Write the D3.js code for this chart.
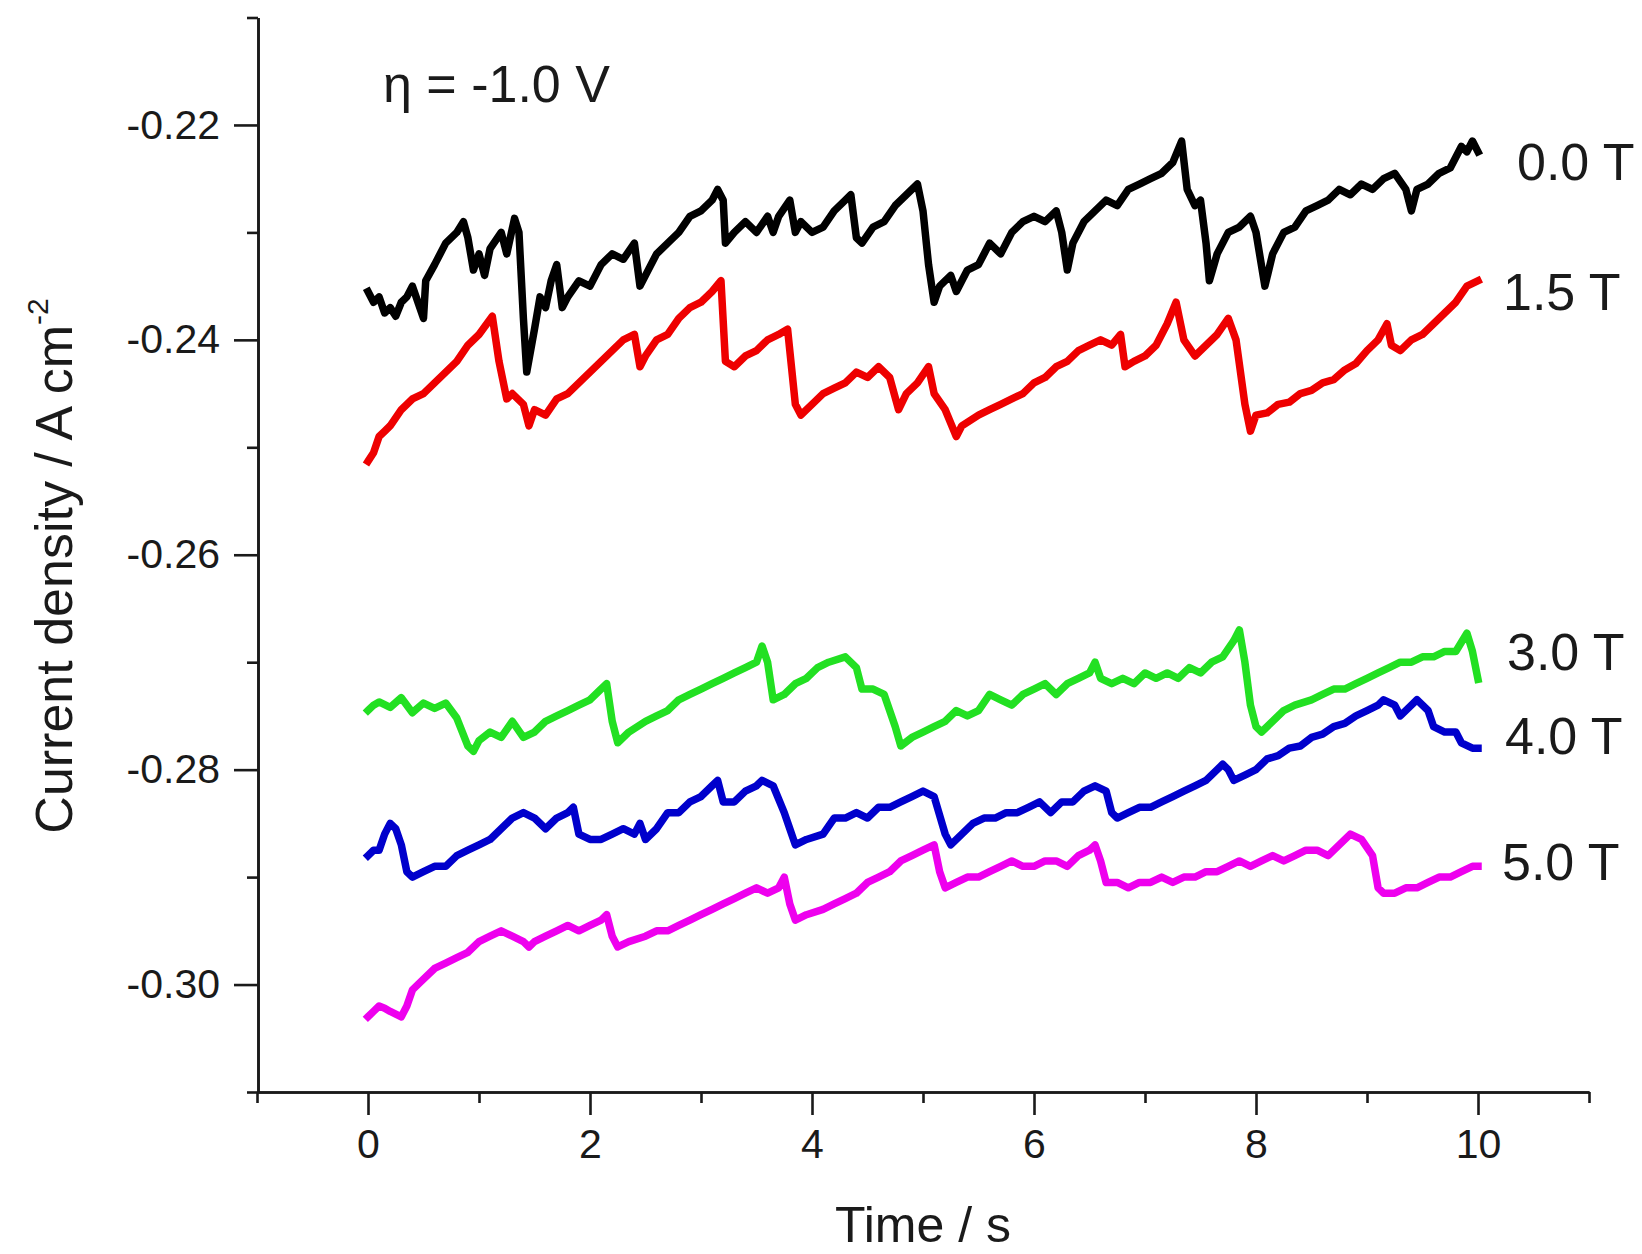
<!DOCTYPE html>
<html><head><meta charset="utf-8">
<script src="https://cdn.jsdelivr.net/npm/d3@7"></script>
<style>
body{margin:0;background:#fff}
svg{display:block}
text{font-family:"Liberation Sans",Arial,Helvetica,sans-serif;fill:#1a1a1a}
</style>
</head><body>
<svg id="chart" width="1642" height="1254"></svg>
<script>
// ---------- data (time in s, current density in A cm^-2) ----------
const trace00T = [[0.00,-0.2355],[0.05,-0.2365],[0.10,-0.2360],[0.15,-0.2375],[0.20,-0.2370],[0.25,-0.2378],[0.30,-0.2365],[0.35,-0.2360],[0.40,-0.2350],[0.45,-0.2365],[0.50,-0.2380],[0.52,-0.2345],[0.60,-0.2330],[0.70,-0.2310],[0.80,-0.2300],[0.86,-0.2290],[0.90,-0.2305],[0.95,-0.2335],[1.00,-0.2320],[1.05,-0.2340],[1.10,-0.2315],[1.20,-0.2300],[1.25,-0.2320],[1.32,-0.2287],[1.36,-0.2300],[1.40,-0.2380],[1.43,-0.2430],[1.50,-0.2390],[1.55,-0.2360],[1.60,-0.2370],[1.65,-0.2345],[1.70,-0.2330],[1.75,-0.2370],[1.80,-0.2360],[1.90,-0.2345],[2.00,-0.2350],[2.10,-0.2330],[2.20,-0.2320],[2.30,-0.2325],[2.40,-0.2310],[2.45,-0.2350],[2.50,-0.2340],[2.60,-0.2320],[2.70,-0.2310],[2.80,-0.2300],[2.90,-0.2285],[3.00,-0.2280],[3.10,-0.2270],[3.15,-0.2260],[3.20,-0.2270],[3.22,-0.2310],[3.30,-0.2300],[3.40,-0.2290],[3.50,-0.2300],[3.60,-0.2285],[3.65,-0.2300],[3.70,-0.2285],[3.80,-0.2270],[3.85,-0.2300],[3.90,-0.2290],[4.00,-0.2300],[4.10,-0.2295],[4.20,-0.2280],[4.30,-0.2270],[4.35,-0.2265],[4.40,-0.2305],[4.45,-0.2310],[4.55,-0.2295],[4.65,-0.2290],[4.75,-0.2275],[4.85,-0.2265],[4.95,-0.2255],[5.00,-0.2280],[5.05,-0.2330],[5.10,-0.2365],[5.15,-0.2350],[5.25,-0.2340],[5.30,-0.2355],[5.40,-0.2335],[5.50,-0.2330],[5.60,-0.2310],[5.70,-0.2320],[5.80,-0.2300],[5.90,-0.2290],[6.00,-0.2285],[6.10,-0.2290],[6.20,-0.2280],[6.25,-0.2300],[6.30,-0.2335],[6.35,-0.2310],[6.45,-0.2290],[6.55,-0.2280],[6.65,-0.2270],[6.75,-0.2275],[6.85,-0.2260],[6.95,-0.2255],[7.05,-0.2250],[7.15,-0.2245],[7.25,-0.2235],[7.33,-0.2215],[7.38,-0.2260],[7.45,-0.2275],[7.50,-0.2270],[7.55,-0.2310],[7.58,-0.2345],[7.65,-0.2320],[7.75,-0.2300],[7.85,-0.2295],[7.95,-0.2285],[8.00,-0.2300],[8.08,-0.2350],[8.15,-0.2320],[8.25,-0.2300],[8.35,-0.2295],[8.45,-0.2280],[8.55,-0.2275],[8.65,-0.2270],[8.75,-0.2260],[8.85,-0.2265],[8.95,-0.2255],[9.05,-0.2260],[9.15,-0.2250],[9.25,-0.2245],[9.35,-0.2260],[9.40,-0.2280],[9.45,-0.2260],[9.55,-0.2255],[9.65,-0.2245],[9.75,-0.2240],[9.85,-0.2220],[9.90,-0.2225],[9.95,-0.2215],[10.0,-0.2225]];

const trace15T = [[0.00,-0.2513],[0.05,-0.2505],[0.10,-0.2490],[0.15,-0.2485],[0.20,-0.2480],[0.30,-0.2465],[0.40,-0.2455],[0.50,-0.2450],[0.60,-0.2440],[0.70,-0.2430],[0.80,-0.2420],[0.90,-0.2405],[1.00,-0.2395],[1.12,-0.2378],[1.18,-0.2420],[1.25,-0.2455],[1.30,-0.2450],[1.40,-0.2460],[1.45,-0.2480],[1.50,-0.2465],[1.60,-0.2470],[1.70,-0.2455],[1.80,-0.2450],[1.90,-0.2440],[2.00,-0.2430],[2.10,-0.2420],[2.20,-0.2410],[2.30,-0.2400],[2.40,-0.2395],[2.45,-0.2425],[2.50,-0.2415],[2.60,-0.2400],[2.70,-0.2395],[2.80,-0.2380],[2.90,-0.2370],[3.00,-0.2365],[3.10,-0.2355],[3.18,-0.2345],[3.22,-0.2420],[3.30,-0.2425],[3.40,-0.2415],[3.50,-0.2410],[3.60,-0.2400],[3.70,-0.2395],[3.78,-0.2390],[3.85,-0.2460],[3.90,-0.2470],[4.00,-0.2460],[4.10,-0.2450],[4.20,-0.2445],[4.30,-0.2440],[4.40,-0.2430],[4.50,-0.2435],[4.60,-0.2425],[4.70,-0.2435],[4.78,-0.2465],[4.85,-0.2450],[4.95,-0.2440],[5.05,-0.2425],[5.10,-0.2450],[5.20,-0.2465],[5.30,-0.2490],[5.35,-0.2480],[5.50,-0.2470],[5.60,-0.2465],[5.70,-0.2460],[5.80,-0.2455],[5.90,-0.2450],[6.00,-0.2440],[6.10,-0.2435],[6.20,-0.2425],[6.30,-0.2420],[6.40,-0.2410],[6.50,-0.2405],[6.60,-0.2400],[6.70,-0.2405],[6.78,-0.2395],[6.82,-0.2425],[6.90,-0.2420],[7.00,-0.2415],[7.10,-0.2405],[7.20,-0.2385],[7.28,-0.2365],[7.35,-0.2400],[7.45,-0.2415],[7.55,-0.2405],[7.65,-0.2395],[7.75,-0.2380],[7.82,-0.2400],[7.90,-0.2460],[7.95,-0.2485],[8.00,-0.2470],[8.10,-0.2468],[8.20,-0.2460],[8.30,-0.2458],[8.40,-0.2450],[8.50,-0.2447],[8.60,-0.2440],[8.70,-0.2437],[8.80,-0.2428],[8.90,-0.2422],[9.00,-0.2410],[9.10,-0.2400],[9.18,-0.2385],[9.22,-0.2405],[9.30,-0.2410],[9.40,-0.2400],[9.50,-0.2395],[9.60,-0.2385],[9.70,-0.2375],[9.80,-0.2365],[9.90,-0.2350],[10.0,-0.2345]];

const trace30T = [[0.00,-0.2745],[0.05,-0.2740],[0.10,-0.2737],[0.20,-0.2742],[0.30,-0.2733],[0.40,-0.2747],[0.50,-0.2738],[0.60,-0.2743],[0.70,-0.2738],[0.80,-0.2752],[0.90,-0.2778],[0.95,-0.2783],[1.00,-0.2773],[1.10,-0.2765],[1.20,-0.2770],[1.30,-0.2755],[1.40,-0.2770],[1.50,-0.2765],[1.60,-0.2755],[1.70,-0.2750],[1.80,-0.2745],[1.90,-0.2740],[2.00,-0.2735],[2.10,-0.2725],[2.15,-0.2720],[2.20,-0.2755],[2.25,-0.2775],[2.35,-0.2765],[2.50,-0.2755],[2.60,-0.2750],[2.70,-0.2745],[2.80,-0.2735],[2.90,-0.2730],[3.00,-0.2725],[3.10,-0.2720],[3.20,-0.2715],[3.30,-0.2710],[3.40,-0.2705],[3.50,-0.2700],[3.55,-0.2685],[3.60,-0.2700],[3.65,-0.2735],[3.75,-0.2730],[3.85,-0.2720],[3.95,-0.2715],[4.05,-0.2705],[4.15,-0.2700],[4.30,-0.2695],[4.40,-0.2705],[4.45,-0.2725],[4.55,-0.2725],[4.65,-0.2730],[4.75,-0.2760],[4.80,-0.2778],[4.90,-0.2770],[5.00,-0.2765],[5.10,-0.2760],[5.20,-0.2755],[5.30,-0.2745],[5.40,-0.2750],[5.50,-0.2745],[5.60,-0.2730],[5.70,-0.2735],[5.80,-0.2740],[5.90,-0.2730],[6.00,-0.2725],[6.10,-0.2720],[6.20,-0.2730],[6.30,-0.2720],[6.40,-0.2715],[6.50,-0.2710],[6.55,-0.2700],[6.60,-0.2715],[6.70,-0.2720],[6.80,-0.2715],[6.90,-0.2720],[7.00,-0.2710],[7.10,-0.2715],[7.20,-0.2710],[7.30,-0.2715],[7.40,-0.2705],[7.50,-0.2710],[7.60,-0.2700],[7.70,-0.2695],[7.80,-0.2680],[7.85,-0.2670],[7.90,-0.2700],[7.95,-0.2740],[8.00,-0.2760],[8.05,-0.2765],[8.15,-0.2755],[8.25,-0.2745],[8.35,-0.2740],[8.50,-0.2735],[8.60,-0.2730],[8.70,-0.2725],[8.80,-0.2725],[8.90,-0.2720],[9.00,-0.2715],[9.10,-0.2710],[9.20,-0.2705],[9.30,-0.2700],[9.40,-0.2700],[9.50,-0.2695],[9.60,-0.2695],[9.70,-0.2690],[9.80,-0.2690],[9.90,-0.2673],[9.95,-0.2690],[10.0,-0.2716]];

const trace40T = [[0.00,-0.2880],[0.05,-0.2875],[0.10,-0.2875],[0.15,-0.2860],[0.20,-0.2850],[0.25,-0.2855],[0.30,-0.2870],[0.35,-0.2895],[0.40,-0.2900],[0.50,-0.2895],[0.60,-0.2890],[0.70,-0.2890],[0.80,-0.2880],[0.90,-0.2875],[1.00,-0.2870],[1.10,-0.2865],[1.20,-0.2855],[1.30,-0.2845],[1.40,-0.2840],[1.50,-0.2845],[1.60,-0.2855],[1.70,-0.2845],[1.80,-0.2840],[1.85,-0.2835],[1.90,-0.2860],[2.00,-0.2865],[2.10,-0.2865],[2.20,-0.2860],[2.30,-0.2855],[2.40,-0.2860],[2.45,-0.2850],[2.50,-0.2865],[2.60,-0.2855],[2.70,-0.2840],[2.80,-0.2840],[2.90,-0.2830],[3.00,-0.2825],[3.10,-0.2815],[3.15,-0.2810],[3.20,-0.2830],[3.30,-0.2830],[3.40,-0.2820],[3.50,-0.2815],[3.55,-0.2810],[3.65,-0.2815],[3.75,-0.2840],[3.80,-0.2855],[3.85,-0.2870],[3.95,-0.2865],[4.10,-0.2860],[4.20,-0.2845],[4.30,-0.2845],[4.40,-0.2840],[4.50,-0.2845],[4.60,-0.2835],[4.70,-0.2835],[4.80,-0.2830],[4.90,-0.2825],[5.00,-0.2820],[5.10,-0.2825],[5.20,-0.2860],[5.25,-0.2870],[5.35,-0.2860],[5.45,-0.2850],[5.55,-0.2845],[5.65,-0.2845],[5.75,-0.2840],[5.85,-0.2840],[5.95,-0.2835],[6.05,-0.2830],[6.15,-0.2840],[6.25,-0.2830],[6.35,-0.2830],[6.45,-0.2820],[6.55,-0.2815],[6.65,-0.2820],[6.70,-0.2840],[6.75,-0.2845],[6.85,-0.2840],[6.95,-0.2835],[7.05,-0.2835],[7.15,-0.2830],[7.25,-0.2825],[7.35,-0.2820],[7.45,-0.2815],[7.55,-0.2810],[7.65,-0.2800],[7.70,-0.2795],[7.75,-0.2800],[7.80,-0.2810],[7.90,-0.2805],[8.00,-0.2800],[8.10,-0.2790],[8.20,-0.2787],[8.30,-0.2780],[8.40,-0.2778],[8.50,-0.2770],[8.60,-0.2767],[8.70,-0.2760],[8.80,-0.2757],[8.90,-0.2750],[9.00,-0.2745],[9.10,-0.2740],[9.15,-0.2735],[9.25,-0.2740],[9.30,-0.2750],[9.40,-0.2740],[9.45,-0.2735],[9.55,-0.2745],[9.60,-0.2760],[9.70,-0.2765],[9.80,-0.2765],[9.85,-0.2775],[9.95,-0.2780],[10.0,-0.2780]];

const trace50T = [[0.00,-0.3030],[0.05,-0.3025],[0.10,-0.3020],[0.15,-0.3022],[0.20,-0.3025],[0.30,-0.3030],[0.35,-0.3020],[0.40,-0.3005],[0.50,-0.2995],[0.60,-0.2985],[0.70,-0.2980],[0.80,-0.2975],[0.90,-0.2970],[1.00,-0.2960],[1.10,-0.2955],[1.20,-0.2950],[1.30,-0.2955],[1.40,-0.2960],[1.45,-0.2965],[1.50,-0.2960],[1.60,-0.2955],[1.70,-0.2950],[1.80,-0.2945],[1.90,-0.2950],[2.00,-0.2945],[2.10,-0.2940],[2.15,-0.2935],[2.20,-0.2955],[2.25,-0.2965],[2.35,-0.2960],[2.50,-0.2955],[2.60,-0.2950],[2.70,-0.2950],[2.80,-0.2945],[2.90,-0.2940],[3.00,-0.2935],[3.10,-0.2930],[3.20,-0.2925],[3.30,-0.2920],[3.40,-0.2915],[3.50,-0.2910],[3.60,-0.2915],[3.70,-0.2910],[3.75,-0.2900],[3.80,-0.2925],[3.85,-0.2940],[3.95,-0.2935],[4.10,-0.2930],[4.20,-0.2925],[4.30,-0.2920],[4.40,-0.2915],[4.50,-0.2905],[4.60,-0.2900],[4.70,-0.2895],[4.80,-0.2885],[4.90,-0.2880],[5.00,-0.2875],[5.10,-0.2870],[5.15,-0.2895],[5.20,-0.2910],[5.30,-0.2905],[5.40,-0.2900],[5.50,-0.2900],[5.60,-0.2895],[5.70,-0.2890],[5.80,-0.2885],[5.90,-0.2890],[6.00,-0.2890],[6.10,-0.2885],[6.20,-0.2885],[6.30,-0.2890],[6.40,-0.2880],[6.50,-0.2875],[6.55,-0.2870],[6.60,-0.2885],[6.65,-0.2905],[6.75,-0.2905],[6.85,-0.2910],[6.95,-0.2905],[7.05,-0.2905],[7.15,-0.2900],[7.25,-0.2905],[7.35,-0.2900],[7.45,-0.2900],[7.55,-0.2895],[7.65,-0.2895],[7.75,-0.2890],[7.85,-0.2885],[7.95,-0.2890],[8.05,-0.2885],[8.15,-0.2880],[8.25,-0.2885],[8.35,-0.2880],[8.45,-0.2875],[8.55,-0.2875],[8.65,-0.2880],[8.75,-0.2870],[8.85,-0.2860],[8.95,-0.2865],[9.05,-0.2880],[9.10,-0.2910],[9.15,-0.2915],[9.25,-0.2915],[9.35,-0.2910],[9.45,-0.2910],[9.55,-0.2905],[9.65,-0.2900],[9.75,-0.2900],[9.85,-0.2895],[9.95,-0.2890],[10.0,-0.2890]];

const seriesNames  = ["0.0 T", "1.5 T", "3.0 T", "4.0 T", "5.0 T"];
const seriesData   = [trace00T, trace15T, trace30T, trace40T, trace50T];
const seriesColors = ["#000000", "#ee0000", "#22e022", "#0000cc", "#ee00ee"];
// vertical centre of each series label, in data units
const labelValues  = [-0.2234, -0.2355, -0.2690, -0.2768, -0.2885];

const xMajorTicks = [0, 2, 4, 6, 8, 10];
const xMinorTicks = [-1, 1, 3, 5, 7, 9, 11];
const yMajorTicks = [-0.22, -0.24, -0.26, -0.28, -0.30];
const yMinorTicks = [-0.21, -0.23, -0.25, -0.27, -0.29, -0.31];

// ---------- drawing ----------
const svg = d3.select("#chart");
const x = d3.scaleLinear().domain([-1, 11]).range([257, 1589]);
const y = d3.scaleLinear().domain([-0.31, -0.21]).range([1092, 17.5]);
const axisColor = "#1a1a1a";

function styleAxis(g, fs) {
  g.attr("font-size", fs).attr("font-family", null);
  g.selectAll("path.domain").attr("stroke", axisColor).attr("stroke-width", 2.6);
  g.selectAll(".tick line").attr("stroke", axisColor).attr("stroke-width", 2.6);
  g.selectAll(".tick text").attr("fill", axisColor);
}

// Y axis
const yMinorG = svg.append("g").attr("transform", "translate(258,0)")
  .call(d3.axisLeft(y).tickValues(yMinorTicks).tickSize(11).tickSizeOuter(0).tickFormat(""));
styleAxis(yMinorG, 41);
const yMajorG = svg.append("g").attr("transform", "translate(258,0)")
  .call(d3.axisLeft(y).tickValues(yMajorTicks).tickSize(24).tickSizeOuter(0).tickPadding(14)
    .tickFormat(d => d.toFixed(2)));
styleAxis(yMajorG, 41);

// X axis
const xMinorG = svg.append("g").attr("transform", "translate(0,1092)")
  .call(d3.axisBottom(x).tickValues(xMinorTicks).tickSize(11).tickSizeOuter(0).tickFormat(""));
styleAxis(xMinorG, 41);
const xMajorG = svg.append("g").attr("transform", "translate(0,1092)")
  .call(d3.axisBottom(x).tickValues(xMajorTicks).tickSize(23).tickSizeOuter(0).tickPadding(14)
    .tickFormat(d => String(d)));
styleAxis(xMajorG, 41);

// traces
const line = d3.line().x(d => x(d[0])).y(d => y(d[1]));
const traces = svg.append("g");
seriesData.forEach((data, i) => {
  traces.append("path")
    .datum(data)
    .attr("d", line)
    .attr("fill", "none")
    .attr("stroke", seriesColors[i])
    .attr("stroke-width", 7.5)
    .attr("stroke-linejoin", "round")
    .attr("stroke-linecap", "square");
});

// series labels
svg.append("g").selectAll("text")
  .data(seriesNames)
  .join("text")
  .attr("x", (d, i) => [1517, 1503, 1507, 1505, 1502][i])
  .attr("y", (d, i) => y(labelValues[i]))
  .attr("dy", "0.36em")
  .attr("font-size", 52)
  .text(d => d);

// annotation
svg.append("text")
  .attr("x", 383).attr("y", 102)
  .attr("font-size", 52)
  .text("\u03b7 = -1.0 V");

// axis titles
svg.append("text")
  .attr("x", 923).attr("y", 1242)
  .attr("text-anchor", "middle")
  .attr("font-size", 50)
  .text("Time / s");

const yTitle = svg.append("text")
  .attr("transform", "translate(72,566) rotate(-90)")
  .attr("text-anchor", "middle")
  .attr("font-size", 52);
yTitle.append("tspan").text("Current density / A cm");
yTitle.append("tspan").attr("font-size", 30).attr("dy", -24).text("-2");
</script>
</body></html>
